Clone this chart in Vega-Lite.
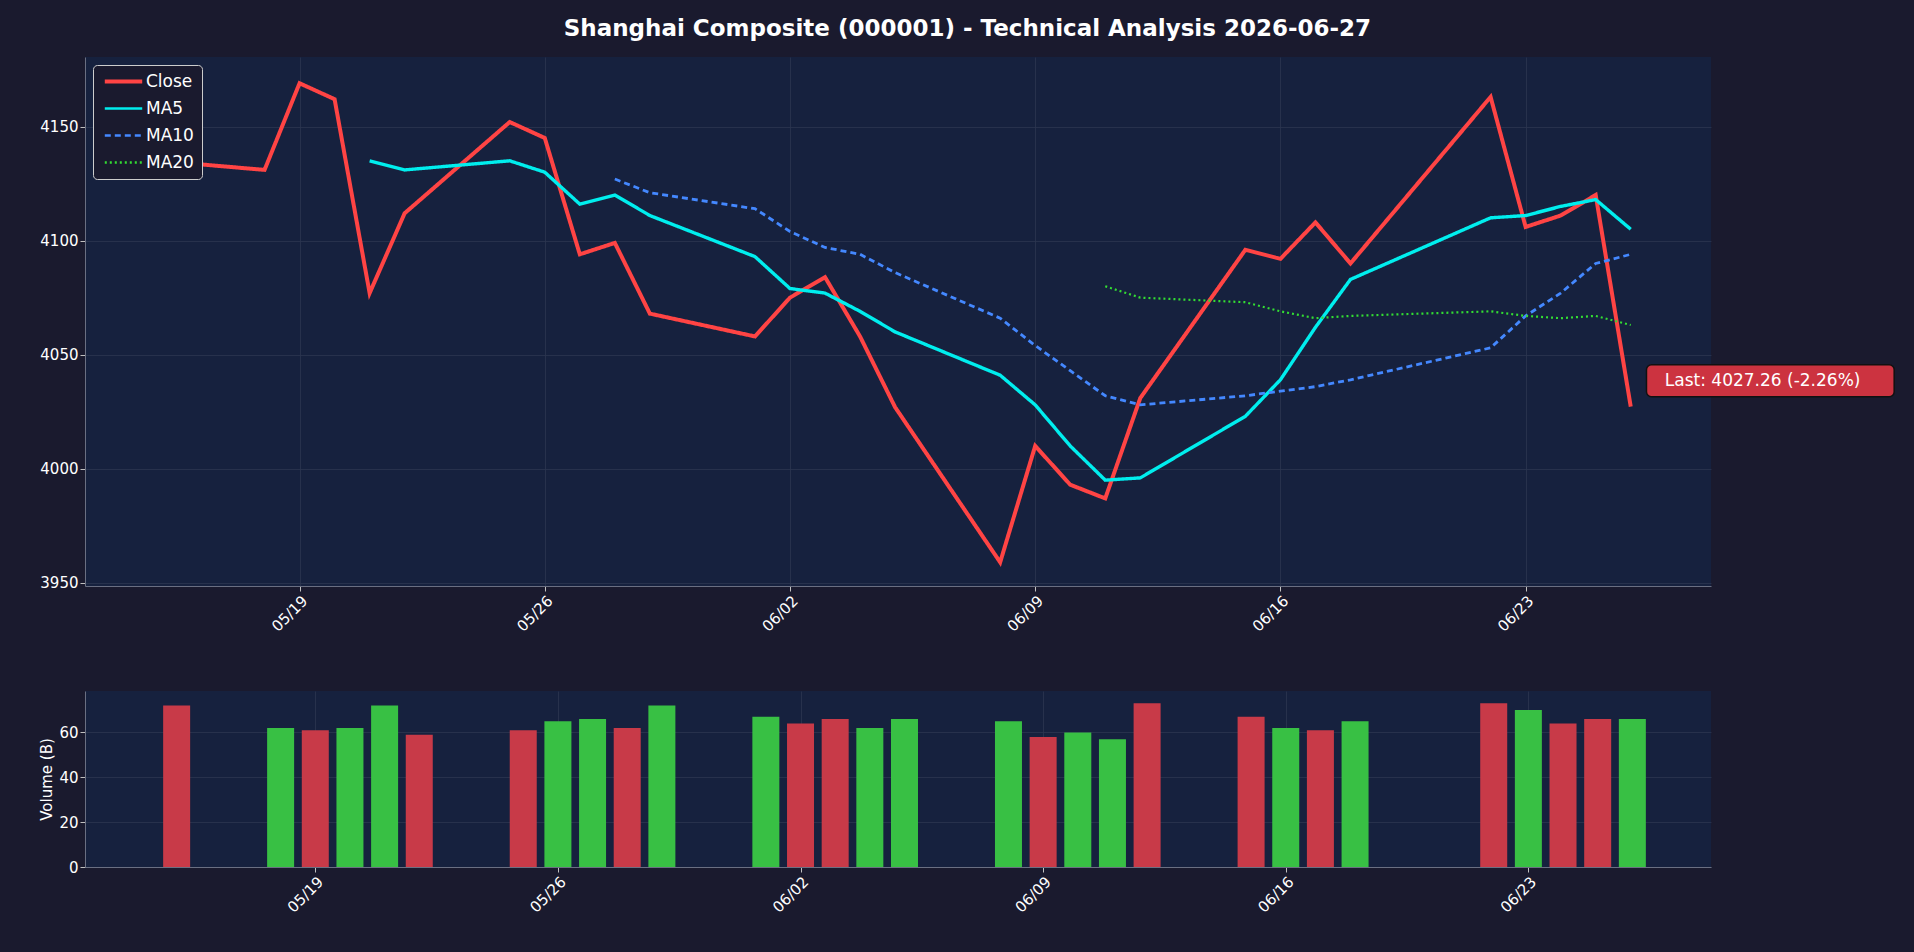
{
  "$schema": "https://vega.github.io/schema/vega-lite/v6.json",
  "background": "#1a1a2e",
  "padding": {"left": 39, "top": 18, "right": 40, "bottom": 60},
  "title": {"text": "Shanghai Composite (000001) - Technical Analysis 2026-06-27", "color": "#ffffff", "fontSize": 23, "fontWeight": "bold", "font": "DejaVu Sans", "anchor": "middle", "offset": 16},
  "config": {
    "font": "DejaVu Sans",
    "view": {"fill": "#16213e", "stroke": null},
    "axis": {"labelColor": "#ffffff", "titleColor": "#ffffff", "labelFontSize": 15, "titleFontSize": 15, "titleFontWeight": "normal", "gridColor": "#2c3650", "gridOpacity": 0.8, "domainColor": "#6a6f82", "tickColor": "#c0c0c0"}
  },
  "resolve": {"scale": {"color": "independent"}},
  "spacing": 56,
  "vconcat": [
    {
      "width": 1626,
      "height": 529,
      "layer": [
        {
          "data": {"values": [
            {"date": "2026-05-15", "series": "Close", "value": 4135},
            {"date": "2026-05-18", "series": "Close", "value": 4131},
            {"date": "2026-05-19", "series": "Close", "value": 4169},
            {"date": "2026-05-20", "series": "Close", "value": 4162},
            {"date": "2026-05-21", "series": "Close", "value": 4077},
            {"date": "2026-05-22", "series": "Close", "value": 4112},
            {"date": "2026-05-25", "series": "Close", "value": 4152},
            {"date": "2026-05-26", "series": "Close", "value": 4145},
            {"date": "2026-05-27", "series": "Close", "value": 4094},
            {"date": "2026-05-28", "series": "Close", "value": 4099},
            {"date": "2026-05-29", "series": "Close", "value": 4068},
            {"date": "2026-06-01", "series": "Close", "value": 4058},
            {"date": "2026-06-02", "series": "Close", "value": 4075},
            {"date": "2026-06-03", "series": "Close", "value": 4084},
            {"date": "2026-06-04", "series": "Close", "value": 4058},
            {"date": "2026-06-05", "series": "Close", "value": 4027},
            {"date": "2026-06-08", "series": "Close", "value": 3959},
            {"date": "2026-06-09", "series": "Close", "value": 4010},
            {"date": "2026-06-10", "series": "Close", "value": 3993},
            {"date": "2026-06-11", "series": "Close", "value": 3987},
            {"date": "2026-06-12", "series": "Close", "value": 4031},
            {"date": "2026-06-15", "series": "Close", "value": 4096},
            {"date": "2026-06-16", "series": "Close", "value": 4092},
            {"date": "2026-06-17", "series": "Close", "value": 4108},
            {"date": "2026-06-18", "series": "Close", "value": 4090},
            {"date": "2026-06-22", "series": "Close", "value": 4163},
            {"date": "2026-06-23", "series": "Close", "value": 4106},
            {"date": "2026-06-24", "series": "Close", "value": 4111},
            {"date": "2026-06-25", "series": "Close", "value": 4120},
            {"date": "2026-06-26", "series": "Close", "value": 4027.26},
            {"date": "2026-05-21", "series": "MA5", "value": 4135},
            {"date": "2026-05-22", "series": "MA5", "value": 4131},
            {"date": "2026-05-25", "series": "MA5", "value": 4135},
            {"date": "2026-05-26", "series": "MA5", "value": 4130},
            {"date": "2026-05-27", "series": "MA5", "value": 4116},
            {"date": "2026-05-28", "series": "MA5", "value": 4120},
            {"date": "2026-05-29", "series": "MA5", "value": 4111},
            {"date": "2026-06-01", "series": "MA5", "value": 4093},
            {"date": "2026-06-02", "series": "MA5", "value": 4079},
            {"date": "2026-06-03", "series": "MA5", "value": 4077},
            {"date": "2026-06-04", "series": "MA5", "value": 4069},
            {"date": "2026-06-05", "series": "MA5", "value": 4060},
            {"date": "2026-06-08", "series": "MA5", "value": 4041},
            {"date": "2026-06-09", "series": "MA5", "value": 4028},
            {"date": "2026-06-10", "series": "MA5", "value": 4010},
            {"date": "2026-06-11", "series": "MA5", "value": 3995},
            {"date": "2026-06-12", "series": "MA5", "value": 3996},
            {"date": "2026-06-15", "series": "MA5", "value": 4023},
            {"date": "2026-06-16", "series": "MA5", "value": 4039},
            {"date": "2026-06-17", "series": "MA5", "value": 4062},
            {"date": "2026-06-18", "series": "MA5", "value": 4083},
            {"date": "2026-06-22", "series": "MA5", "value": 4110},
            {"date": "2026-06-23", "series": "MA5", "value": 4111},
            {"date": "2026-06-24", "series": "MA5", "value": 4115},
            {"date": "2026-06-25", "series": "MA5", "value": 4118},
            {"date": "2026-06-26", "series": "MA5", "value": 4105},
            {"date": "2026-05-28", "series": "MA10", "value": 4127},
            {"date": "2026-05-29", "series": "MA10", "value": 4121},
            {"date": "2026-06-01", "series": "MA10", "value": 4114},
            {"date": "2026-06-02", "series": "MA10", "value": 4104},
            {"date": "2026-06-03", "series": "MA10", "value": 4097},
            {"date": "2026-06-04", "series": "MA10", "value": 4094},
            {"date": "2026-06-05", "series": "MA10", "value": 4086},
            {"date": "2026-06-08", "series": "MA10", "value": 4066},
            {"date": "2026-06-09", "series": "MA10", "value": 4054},
            {"date": "2026-06-10", "series": "MA10", "value": 4043},
            {"date": "2026-06-11", "series": "MA10", "value": 4032},
            {"date": "2026-06-12", "series": "MA10", "value": 4028},
            {"date": "2026-06-15", "series": "MA10", "value": 4032},
            {"date": "2026-06-16", "series": "MA10", "value": 4034},
            {"date": "2026-06-17", "series": "MA10", "value": 4036},
            {"date": "2026-06-18", "series": "MA10", "value": 4039},
            {"date": "2026-06-22", "series": "MA10", "value": 4053},
            {"date": "2026-06-23", "series": "MA10", "value": 4067},
            {"date": "2026-06-24", "series": "MA10", "value": 4077},
            {"date": "2026-06-25", "series": "MA10", "value": 4090},
            {"date": "2026-06-26", "series": "MA10", "value": 4094},
            {"date": "2026-06-11", "series": "MA20", "value": 4080},
            {"date": "2026-06-12", "series": "MA20", "value": 4075},
            {"date": "2026-06-15", "series": "MA20", "value": 4073},
            {"date": "2026-06-16", "series": "MA20", "value": 4069},
            {"date": "2026-06-17", "series": "MA20", "value": 4066},
            {"date": "2026-06-18", "series": "MA20", "value": 4067},
            {"date": "2026-06-22", "series": "MA20", "value": 4069},
            {"date": "2026-06-23", "series": "MA20", "value": 4067},
            {"date": "2026-06-24", "series": "MA20", "value": 4066},
            {"date": "2026-06-25", "series": "MA20", "value": 4067},
            {"date": "2026-06-26", "series": "MA20", "value": 4063}
          ]},
          "mark": {"type": "line"},
          "encoding": {
            "x": {"field": "date", "type": "temporal", "title": null,
              "scale": {"type": "utc", "domain": [{"year": 2026, "month": 5, "date": 12, "hours": 21, "utc": true}, {"year": 2026, "month": 6, "date": 28, "hours": 7, "utc": true}]},
              "axis": {"format": "%m/%d", "labelAngle": -45, "labelAlign": "right", "labelBaseline": "top",
                "values": [{"year": 2026, "month": 5, "date": 19, "utc": true}, {"year": 2026, "month": 5, "date": 26, "utc": true}, {"year": 2026, "month": 6, "date": 2, "utc": true}, {"year": 2026, "month": 6, "date": 9, "utc": true}, {"year": 2026, "month": 6, "date": 16, "utc": true}, {"year": 2026, "month": 6, "date": 23, "utc": true}]}},
            "y": {"field": "value", "type": "quantitative", "title": null, "scale": {"domain": [3948.6, 4180.5], "nice": false, "zero": false}, "axis": {"values": [3950, 4000, 4050, 4100, 4150], "format": "d"}},
            "color": {"field": "series", "type": "nominal", "title": null,
              "scale": {"domain": ["Close", "MA5", "MA10", "MA20"], "range": ["#ff4444", "#00eeee", "#4488ff", "#33dd33"]},
              "legend": {"orient": "top-left", "offset": 8, "fillColor": "#1a1a2e", "strokeColor": "#cccccc", "padding": 8, "cornerRadius": 4, "labelColor": "#ffffff", "labelFontSize": 17, "labelOffset": 14, "symbolOffset": 14, "symbolType": "stroke", "symbolSize": 1400, "rowPadding": 9,
                "encode": {"symbols": {"update": {
                  "strokeDash": {"signal": "datum.value === 'MA10' ? [6, 4] : datum.value === 'MA20' ? [2, 3] : [1, 0]"},
                  "strokeWidth": {"signal": "datum.value === 'Close' ? 4 : 2.4"}}}}}},
            "strokeDash": {"field": "series", "type": "nominal", "legend": null, "scale": {"domain": ["Close", "MA5", "MA10", "MA20"], "range": [[1, 0], [1, 0], [6, 4], [2, 3]]}},
            "strokeWidth": {"field": "series", "type": "nominal", "legend": null, "scale": {"domain": ["Close", "MA5", "MA10", "MA20"], "range": [4, 2.2, 2.2, 2.6]}}
          }
        },
        {
          "data": {"values": [{"x1": "2026-06-26T10:48:00Z", "x2": "2026-07-03T12:30:00Z", "y1": 4031.6, "y2": 4045.6, "xm": "2026-06-26T23:20:00Z", "ym": 4038.6, "label": "Last: 4027.26 (-2.26%)"}]},
          "layer": [
            {"mark": {"type": "rect", "fill": "#cc3340", "stroke": "#111111", "strokeWidth": 1.5, "cornerRadius": 5},
             "encoding": {"x": {"field": "x1", "type": "temporal"}, "x2": {"field": "x2"}, "y": {"field": "y1", "type": "quantitative"}, "y2": {"field": "y2"}}},
            {"mark": {"type": "text", "color": "#ffffff", "fontSize": 17, "align": "left", "baseline": "middle"},
             "encoding": {"x": {"field": "xm", "type": "temporal"}, "y": {"field": "ym", "type": "quantitative"}, "text": {"field": "label"}}}
          ]
        }
      ]
    },
    {
      "width": 1626,
      "height": 176,
      "data": {"values": [
        {"date": "2026-05-15", "volume": 72, "dir": "down"},
        {"date": "2026-05-18", "volume": 62, "dir": "up"},
        {"date": "2026-05-19", "volume": 61, "dir": "down"},
        {"date": "2026-05-20", "volume": 62, "dir": "up"},
        {"date": "2026-05-21", "volume": 72, "dir": "up"},
        {"date": "2026-05-22", "volume": 59, "dir": "down"},
        {"date": "2026-05-25", "volume": 61, "dir": "down"},
        {"date": "2026-05-26", "volume": 65, "dir": "up"},
        {"date": "2026-05-27", "volume": 66, "dir": "up"},
        {"date": "2026-05-28", "volume": 62, "dir": "down"},
        {"date": "2026-05-29", "volume": 72, "dir": "up"},
        {"date": "2026-06-01", "volume": 67, "dir": "up"},
        {"date": "2026-06-02", "volume": 64, "dir": "down"},
        {"date": "2026-06-03", "volume": 66, "dir": "down"},
        {"date": "2026-06-04", "volume": 62, "dir": "up"},
        {"date": "2026-06-05", "volume": 66, "dir": "up"},
        {"date": "2026-06-08", "volume": 65, "dir": "up"},
        {"date": "2026-06-09", "volume": 58, "dir": "down"},
        {"date": "2026-06-10", "volume": 60, "dir": "up"},
        {"date": "2026-06-11", "volume": 57, "dir": "up"},
        {"date": "2026-06-12", "volume": 73, "dir": "down"},
        {"date": "2026-06-15", "volume": 67, "dir": "down"},
        {"date": "2026-06-16", "volume": 62, "dir": "up"},
        {"date": "2026-06-17", "volume": 61, "dir": "down"},
        {"date": "2026-06-18", "volume": 65, "dir": "up"},
        {"date": "2026-06-22", "volume": 73, "dir": "down"},
        {"date": "2026-06-23", "volume": 70, "dir": "up"},
        {"date": "2026-06-24", "volume": 64, "dir": "down"},
        {"date": "2026-06-25", "volume": 66, "dir": "down"},
        {"date": "2026-06-26", "volume": 66, "dir": "up"}
      ]},
      "mark": {"type": "bar", "width": 27},
      "encoding": {
        "x": {"field": "date", "type": "temporal", "title": null,
          "scale": {"type": "utc", "domain": [{"year": 2026, "month": 5, "date": 12, "hours": 12, "utc": true}, {"year": 2026, "month": 6, "date": 28, "hours": 3, "utc": true}]},
          "axis": {"format": "%m/%d", "labelAngle": -45, "labelAlign": "right", "labelBaseline": "top",
            "values": [{"year": 2026, "month": 5, "date": 19, "utc": true}, {"year": 2026, "month": 5, "date": 26, "utc": true}, {"year": 2026, "month": 6, "date": 2, "utc": true}, {"year": 2026, "month": 6, "date": 9, "utc": true}, {"year": 2026, "month": 6, "date": 16, "utc": true}, {"year": 2026, "month": 6, "date": 23, "utc": true}]}},
        "y": {"field": "volume", "type": "quantitative", "title": "Volume (B)", "scale": {"domain": [0, 78.5], "nice": false}, "axis": {"values": [0, 20, 40, 60]}},
        "color": {"field": "dir", "type": "nominal", "legend": null, "scale": {"domain": ["up", "down"], "range": ["#38c044", "#c83a48"]}}
      }
    }
  ]
}
